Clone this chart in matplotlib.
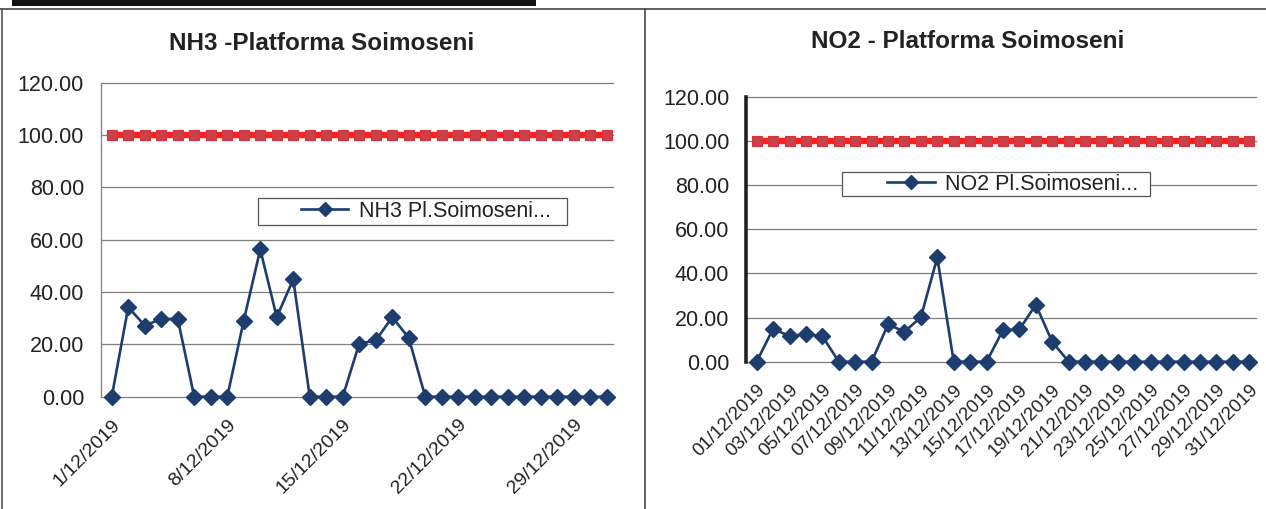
import matplotlib.pyplot as plt
from matplotlib.lines import Line2D
from matplotlib.patches import Rectangle

plt.rcParams['font.family'] = ['Liberation Sans', 'DejaVu Sans']

# zilele lunii decembrie 2019
days = list(range(1, 32))

nh3 = [0.0, 34.2, 27.2, 29.7, 29.7, 0.0, 0.0, 0.0, 29.1, 56.3, 30.4, 44.9, 0.0, 0.0, 0.0, 20.3,
       21.5, 30.4, 22.5, 0.0, 0.0, 0.0, 0.0, 0.0, 0.0, 0.0, 0.0, 0.0, 0.0, 0.0, 0.0]
no2 = [0.0, 14.9, 11.6, 12.4, 11.6, 0.0, 0.0, 0.0, 16.9, 13.6, 20.1, 47.2, 0.0, 0.0, 0.0, 14.3,
       14.6, 25.8, 9.0, 0.0, 0.0, 0.0, 0.0, 0.0, 0.0, 0.0, 0.0, 0.0, 0.0, 0.0, 0.0]
limit = [100.0, 100.0, 100.0, 100.0, 100.0, 100.0, 100.0, 100.0, 100.0, 100.0, 100.0, 100.0,
         100.0, 100.0, 100.0, 100.0, 100.0, 100.0, 100.0, 100.0, 100.0, 100.0, 100.0, 100.0,
         100.0, 100.0, 100.0, 100.0, 100.0, 100.0, 100.0]

yticks = [0, 20, 40, 60, 80, 100, 120]
nh3_ticks = [1, 8, 15, 22, 29]
nh3_ticklabels = ['%d/12/2019' % d for d in nh3_ticks]
no2_ticks = [1, 3, 5, 7, 9, 11, 13, 15, 17, 19, 21, 23, 25, 27, 29, 31]
no2_ticklabels = ['%02d/12/2019' % d for d in no2_ticks]

W, H = 1266, 509
fig = plt.figure(figsize=(W / 100, H / 100), dpi=100)


def fx(px):
    return px / W


def fy(py):
    return 1 - py / H


# chenarul documentului scanat
fig.add_artist(Rectangle((fx(12), fy(6)), fx(524), 6 / H, transform=fig.transFigure,
                         facecolor='#111111', edgecolor='none'))
fig.add_artist(Line2D([0, 1], [fy(9), fy(9)], transform=fig.transFigure, color='#444444', lw=1.2))
fig.add_artist(Line2D([fx(2), fx(2)], [fy(9), 0], transform=fig.transFigure, color='#555555', lw=1.2))
fig.add_artist(Line2D([fx(645), fx(645)], [fy(9), 0], transform=fig.transFigure, color='#444444', lw=1.2))

blue = '#1c3d6e'
red = '#ff1f1f'


def panel(box, series, name, title, title_xy, ticks, ticklabels, tick_fs, spine_w, spine_c,
          leg_box, leg_cx, xlim):
    x0, y0, x1, y1 = box
    ax = fig.add_axes([fx(x0), fy(y1), fx(x1 - x0), (y1 - y0) / H])
    ax.plot(days, limit, color=red, lw=4.6, marker='s', ms=7.5, mfc='#c8414c', mec='#d8333a',
            mew=0.8, zorder=3, clip_on=False)
    ax.plot(days, series, color=blue, lw=1.9, marker='D', ms=8.5, mfc=blue, mec=blue,
            zorder=4, clip_on=False, label=name)
    ax.set_ylim(0, 120)
    ax.set_xlim(*xlim)
    ax.set_yticks(yticks)
    ax.set_yticklabels(['%.2f' % v for v in yticks], fontsize=15.5, color='#222222')
    ax.set_xticks(ticks)
    ax.set_xticklabels(ticklabels, rotation=45, ha='right', rotation_mode='anchor',
                       fontsize=tick_fs, color='#222222')
    ax.tick_params(axis='y', length=0, pad=12)
    ax.tick_params(axis='x', length=0, pad=14)
    ax.yaxis.grid(True, color='#7f7f7f', lw=0.9)
    for gl in ax.get_ygridlines():
        gl.set_clip_on(False)
    ax.set_axisbelow(True)
    for s in ['top', 'right', 'bottom']:
        ax.spines[s].set_visible(False)
    ax.spines['left'].set_color(spine_c)
    ax.spines['left'].set_linewidth(spine_w)
    fig.text(fx(title_xy[0]), fy(title_xy[1]), title, ha='center', va='center',
             fontsize=17.5, fontweight='bold', color='#222222')
    lx0, ly0, lx1, ly1 = leg_box
    fig.add_artist(Rectangle((fx(lx0), fy(ly1)), fx(lx1 - lx0), (ly1 - ly0) / H,
                             transform=fig.transFigure, facecolor='white',
                             edgecolor='#555555', lw=0.9, zorder=5))
    leg = fig.legend(handles=ax.get_lines()[1:], loc='center', frameon=False,
                     bbox_to_anchor=(fx(leg_cx), fy((ly0 + ly1) / 2)),
                     fontsize=15.5, handlelength=2.2, handletextpad=0.5,
                     markerscale=0.85)
    leg.set_zorder(6)
    for t in leg.get_texts():
        t.set_color('#222222')
    return ax


panel((100.7, 82.7, 612.7, 396.7), nh3, 'NH3 Pl.Soimoseni...', 'NH3 -Platforma Soimoseni',
      (322, 44), nh3_ticks, nh3_ticklabels, 14, 1.0, '#8a8a8a',
      (258, 198, 567, 225), 426, (0.33, 31.36))
panel((746, 96.7, 1256, 361.7), no2, 'NO2 Pl.Soimoseni...', 'NO2 - Platforma Soimoseni',
      (968, 42), no2_ticks, no2_ticklabels, 13.5, 2.6, '#222222',
      (842, 172, 1150, 196), 1013, (0.35, 31.41))

fig.savefig('out.png', dpi=100, facecolor='white')
